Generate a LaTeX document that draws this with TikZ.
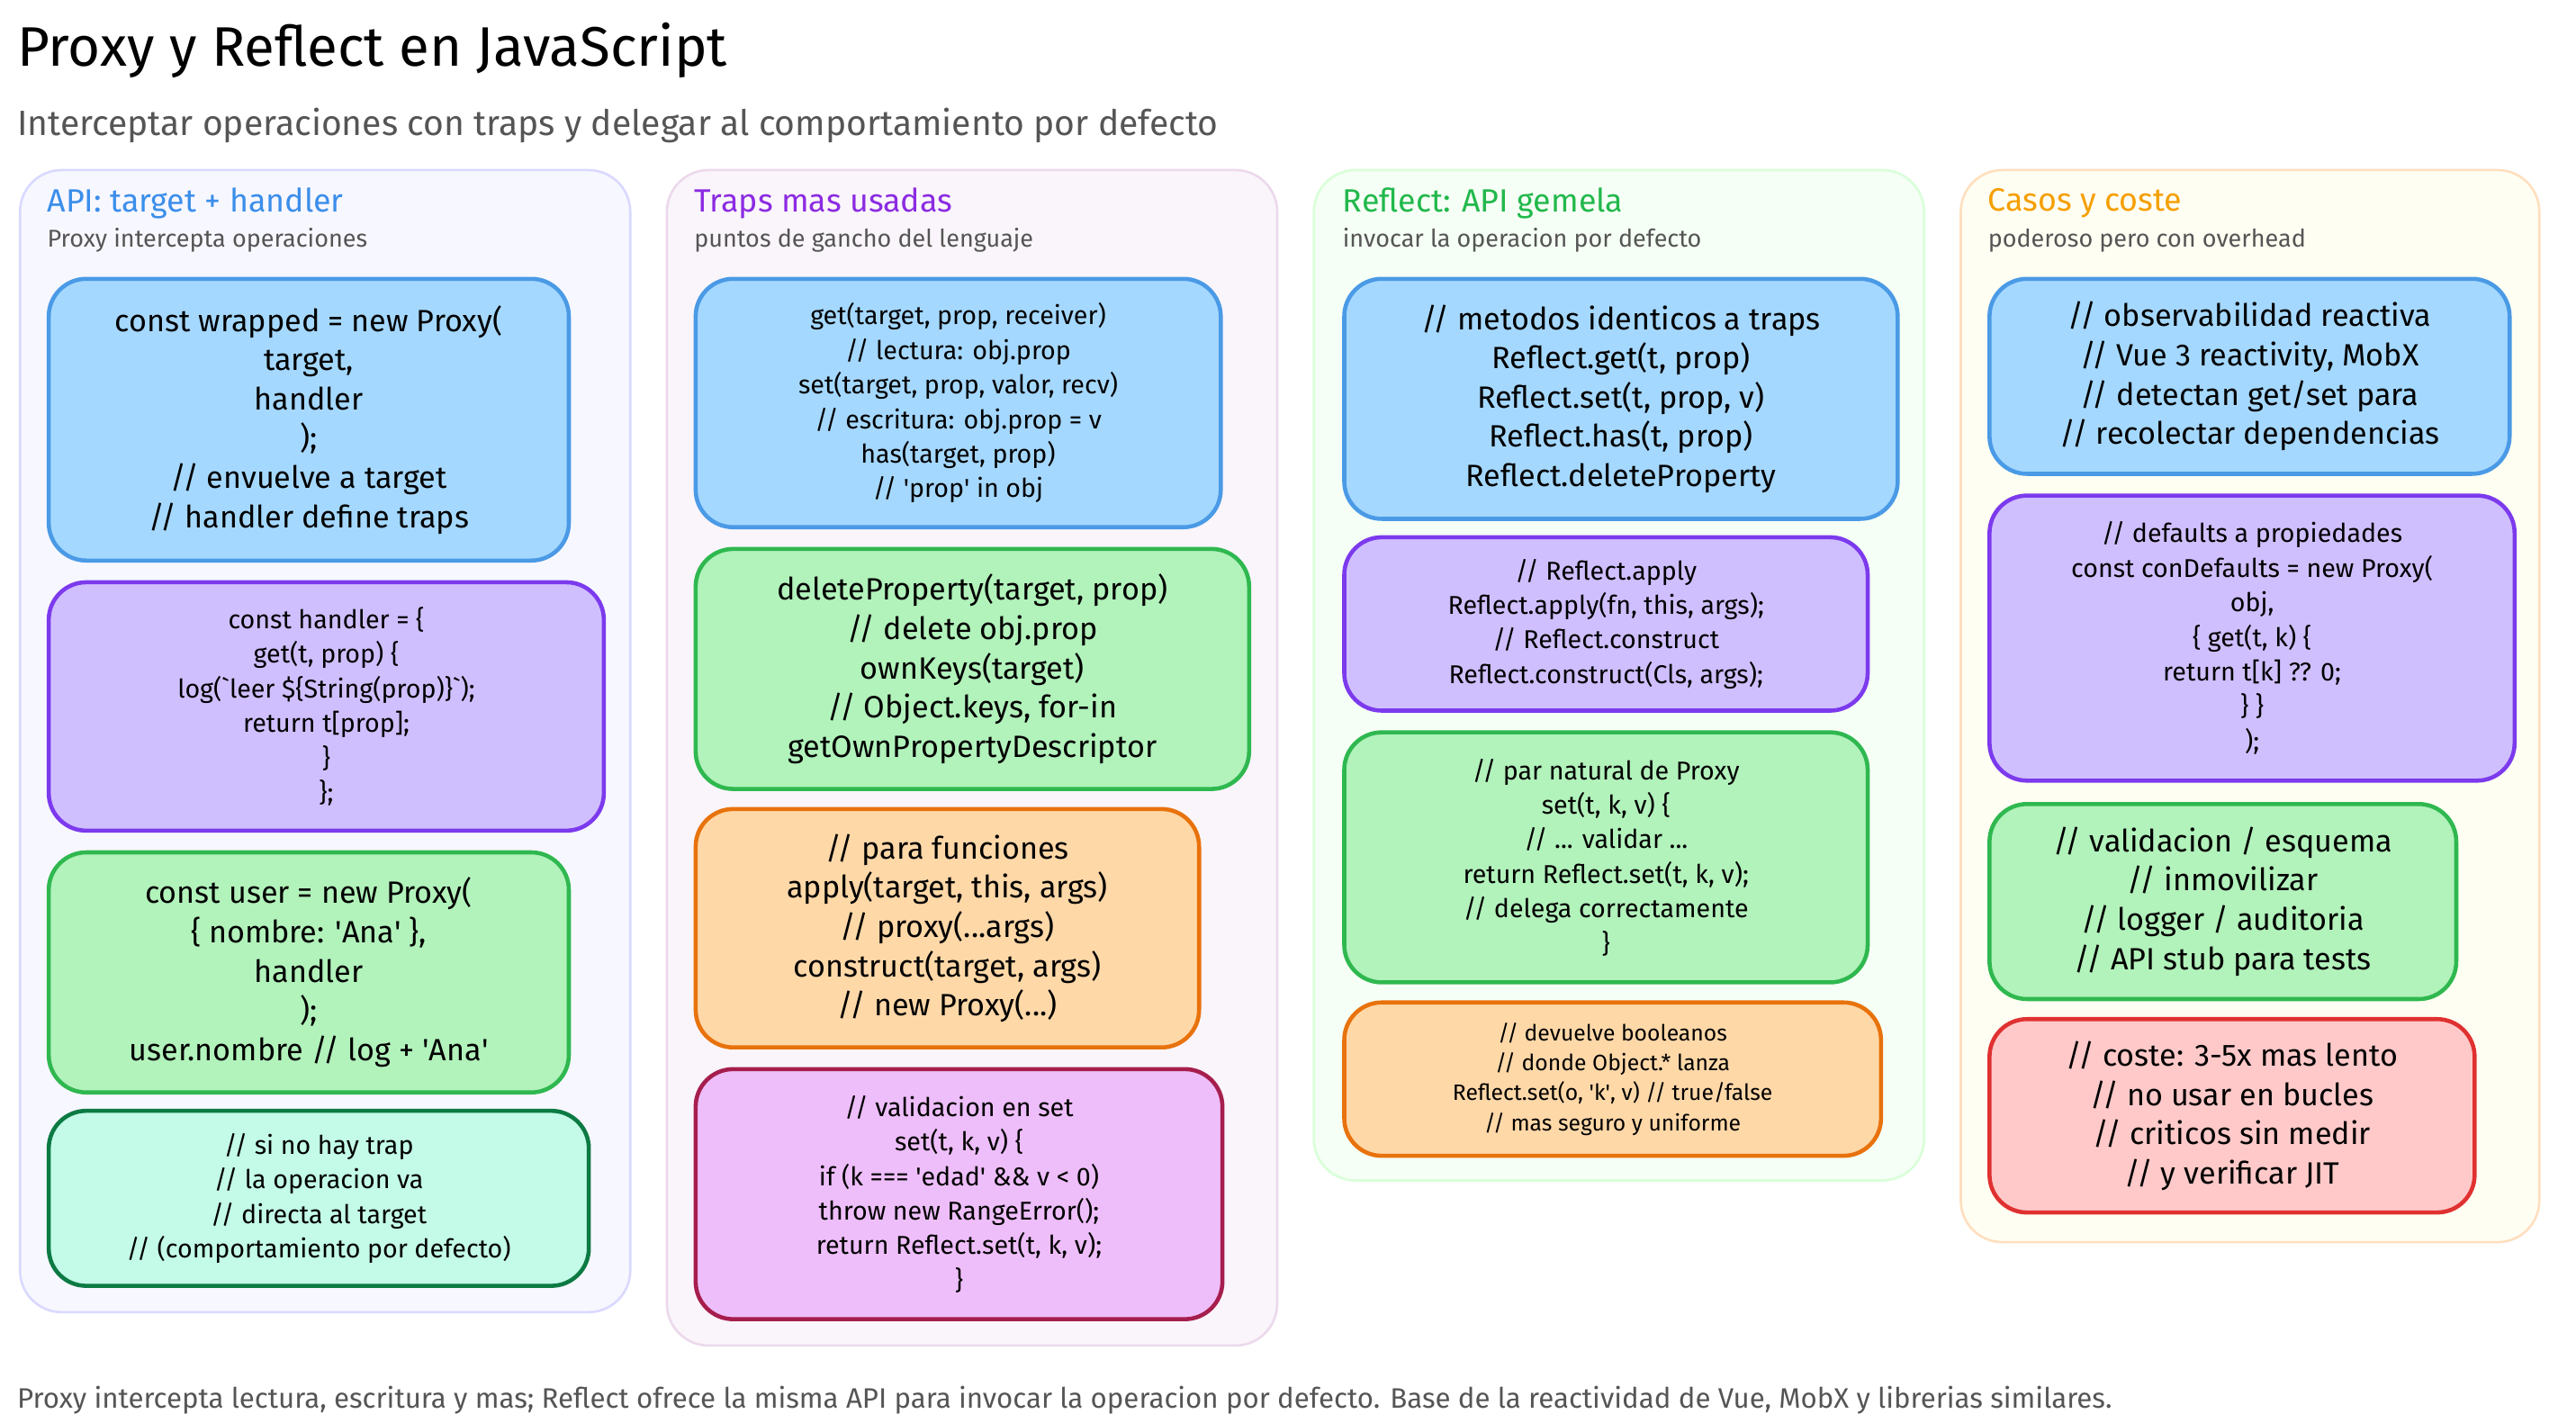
\documentclass[tikz,border=0pt]{standalone}
\usepackage{fontspec}
\setmainfont{Fira Sans}
\usetikzlibrary{positioning}

\definecolor{bluefill}{HTML}{A5D8FF}\definecolor{bluedraw}{HTML}{4A9AE6}
\definecolor{purpfill}{HTML}{D0BFFF}\definecolor{purpdraw}{HTML}{7C3AED}
\definecolor{greenfill}{HTML}{B2F2BB}\definecolor{greendraw}{HTML}{2FB84F}
\definecolor{tealfill}{HTML}{C3FAE8}\definecolor{tealdraw}{HTML}{0C7A43}
\definecolor{orangefill}{HTML}{FFD8A8}\definecolor{orangedraw}{HTML}{E8720C}
\definecolor{magfill}{HTML}{EEBEFA}\definecolor{magdraw}{HTML}{A61E4D}
\definecolor{redfill}{HTML}{FFC9C9}\definecolor{reddraw}{HTML}{E03131}
\definecolor{hblue}{HTML}{3B8EEA}\definecolor{hpurp}{HTML}{8B2BE2}
\definecolor{hgreen}{HTML}{22B84C}\definecolor{horange}{HTML}{F59F00}
\definecolor{subgray}{HTML}{555555}

\newcommand{\bigtxt}{\fontsize{10.5}{13.4}\selectfont}
\newcommand{\midtxt}{\fontsize{8.8}{11.8}\selectfont}
\newcommand{\smalltxt}{\fontsize{7.6}{10.2}\selectfont}
\newcommand{\q}{\textquotesingle}

\begin{document}
\begin{tikzpicture}[x=0.02cm, y=-0.02cm,
    panel/.style={rounded corners=0.5cm, line width=0.8pt},
    codebox/.style={rectangle, rounded corners=0.45cm, line width=1.4pt, anchor=north west, align=center, inner sep=2pt},
    bluebox/.style={codebox, fill=bluefill, draw=bluedraw},
    purpbox/.style={codebox, fill=purpfill, draw=purpdraw},
    greenbox/.style={codebox, fill=greenfill, draw=greendraw},
    tealbox/.style={codebox, fill=tealfill, draw=tealdraw},
    orangebox/.style={codebox, fill=orangefill, draw=orangedraw},
    magbox/.style={codebox, fill=magfill, draw=magdraw},
    redbox/.style={codebox, fill=redfill, draw=reddraw},
    head/.style={anchor=west, font=\fontsize{11}{13}\selectfont, inner sep=0pt},
    sub/.style={anchor=west, font=\fontsize{8.3}{10}\selectfont, text=subgray, inner sep=0pt}]

\useasboundingbox[fill=white] (0,0) rectangle (1545,848);

% Title
\node[anchor=west, inner sep=0pt, font=\fontsize{19}{22}\selectfont] (title) at (10,30) {Proxy y Reflect en JavaScript};
\node[anchor=west, inner sep=0pt, font=\fontsize{12}{14}\selectfont, text=subgray] (subtitle) at (10,75) {Interceptar operaciones con traps y delegar al comportamiento por defecto};

% Panels
\draw[panel, fill=blue!3, draw=blue!15] (12,102) rectangle (378,787);
\draw[panel, fill=violet!4, draw=violet!15] (400,102) rectangle (766,807);
\draw[panel, fill=green!4, draw=green!15] (788,102) rectangle (1154,708);
\draw[panel, fill=yellow!5, draw=orange!25] (1176,102) rectangle (1523,745);

% Column 1
\node[head, text=hblue] (h1) at (28,122) {API: target + handler};
\node[sub] (s1) at (28,144) {Proxy intercepta operaciones};
\node[bluebox, minimum width=6.24cm, minimum height=3.38cm, font=\bigtxt] (wrapped) at (28,166) {const wrapped = new Proxy(\\ target,\\ handler\\ );\\ // envuelve a target\\ // handler define traps};
\node[purpbox, minimum width=6.66cm, minimum height=2.98cm, font=\midtxt] (handler) at (28,348) {const handler = \{\\ get(t, prop) \{\\ log(\textasciigrave leer \$\{String(prop)\}\textasciigrave);\\ return t[prop];\\ \}\\ \};};
\node[greenbox, minimum width=6.24cm, minimum height=2.88cm, font=\bigtxt] (user) at (28,510) {const user = new Proxy(\\ \{ nombre: \q Ana\q{} \},\\ handler\\ );\\ user.nombre // log + \q Ana\q};
\node[tealbox, minimum width=6.48cm, minimum height=2.1cm, font=\midtxt] (notrap) at (28,665) {// si no hay trap\\ // la operacion va\\ // directa al target\\ // (comportamiento por defecto)};

% Column 2
\node[head, text=hpurp] (h2) at (416,122) {Traps mas usadas};
\node[sub] (s2) at (416,144) {puntos de gancho del lenguaje};
\node[bluebox, minimum width=6.3cm, minimum height=2.98cm, font=\midtxt] (getset) at (416,166) {get(target, prop, receiver)\\ // lectura: obj.prop\\ set(target, prop, valor, recv)\\ // escritura: obj.prop = v\\ has(target, prop)\\ // \q prop\q{} in obj};
\node[greenbox, minimum width=6.64cm, minimum height=2.88cm, font=\bigtxt] (delprop) at (416,328) {deleteProperty(target, prop)\\ // delete obj.prop\\ ownKeys(target)\\ // Object.keys, for-in\\ getOwnPropertyDescriptor};
\node[orangebox, minimum width=6.04cm, minimum height=2.86cm, font=\bigtxt] (apply) at (416,484) {// para funciones\\ apply(target, this, args)\\ // proxy(...args)\\ construct(target, args)\\ // new Proxy(...)};
\node[magbox, minimum width=6.32cm, minimum height=3.0cm, font=\midtxt] (valid) at (416,640) {// validacion en set\\ set(t, k, v) \{\\ if (k === \q edad\q{} \&\& v < 0)\\ throw new RangeError();\\ return Reflect.set(t, k, v);\\ \}};

% Column 3
\node[head, text=hgreen] (h3) at (805,122) {Reflect: API gemela};
\node[sub] (s3) at (805,144) {invocar la operacion por defecto};
\node[bluebox, minimum width=6.64cm, minimum height=2.88cm, font=\bigtxt] (rmethods) at (805,166) {// metodos identicos a traps\\ Reflect.get(t, prop)\\ Reflect.set(t, prop, v)\\ Reflect.has(t, prop)\\ Reflect.deleteProperty};
\node[purpbox, minimum width=6.28cm, minimum height=2.08cm, font=\midtxt] (rapply) at (805,321) {// Reflect.apply\\ Reflect.apply(fn, this, args);\\ // Reflect.construct\\ Reflect.construct(Cls, args);};
\node[greenbox, minimum width=6.28cm, minimum height=3.0cm, font=\midtxt] (rset) at (805,438) {// par natural de Proxy\\ set(t, k, v) \{\\ // ... validar ...\\ return Reflect.set(t, k, v);\\ // delega correctamente\\ \}};
\node[orangebox, minimum width=6.44cm, minimum height=1.84cm, font=\smalltxt] (rbool) at (805,600) {// devuelve booleanos\\ // donde Object.* lanza\\ Reflect.set(o, \q k\q, v) // true/false\\ // mas seguro y uniforme};

% Column 4
\node[head, text=horange] (h4) at (1192,122) {Casos y coste};
\node[sub] (s4) at (1192,144) {poderoso pero con overhead};
\node[bluebox, minimum width=6.24cm, minimum height=2.34cm, font=\bigtxt] (reactive) at (1192,166) {// observabilidad reactiva\\ // Vue 3 reactivity, MobX\\ // detectan get/set para\\ // recolectar dependencias};
\node[purpbox, minimum width=6.3cm, minimum height=3.42cm, font=\midtxt] (defaults) at (1192,296) {// defaults a propiedades\\ const conDefaults = new Proxy(\\ obj,\\ \{ get(t, k) \{\\ return t[k] ?? 0;\\ \} \}\\ );};
\node[greenbox, minimum width=5.6cm, minimum height=2.34cm, font=\bigtxt] (uses) at (1192,481) {// validacion / esquema\\ // inmovilizar\\ // logger / auditoria\\ // API stub para tests};
\node[redbox, minimum width=5.82cm, minimum height=2.32cm, font=\bigtxt] (cost) at (1192,610) {// coste: 3-5x mas lento\\ // no usar en bucles\\ // criticos sin medir\\ // y verificar JIT};

% Footer
\node[anchor=west, inner sep=0pt, font=\fontsize{9.6}{11}\selectfont, text=subgray] (footer) at (10,840) {Proxy intercepta lectura, escritura y mas; Reflect ofrece la misma API para invocar la operacion por defecto. Base de la reactividad de Vue, MobX y librerias similares.};

\end{tikzpicture}
\end{document}
